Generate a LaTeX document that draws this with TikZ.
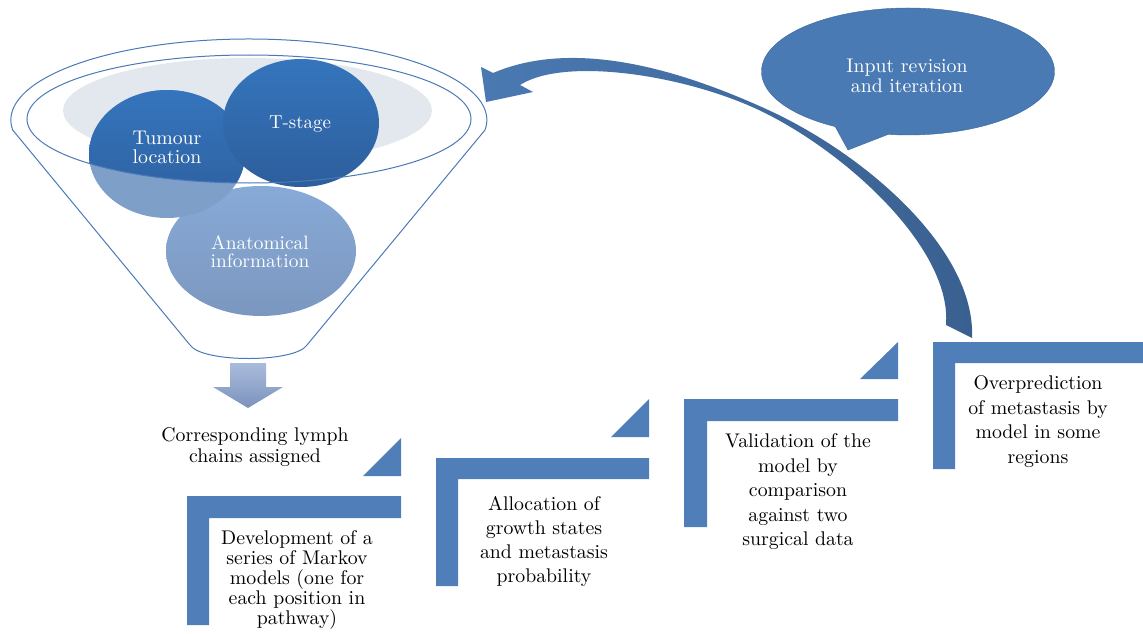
\documentclass[tikz,border=0pt]{standalone}
\usepackage{fontspec}
\setmainfont{lmroman10-regular.otf}

\definecolor{stepblue}{HTML}{4F7EB9}
\definecolor{rimblue}{HTML}{4A79B7}
\definecolor{deepblue}{HTML}{3575BD}
\definecolor{deepblueb}{HTML}{2D5E9C}
\definecolor{paleblue}{HTML}{7E9FC8}
\definecolor{anatblue}{HTML}{88AAD7}
\definecolor{anatblueb}{HTML}{7B97BF}
\definecolor{haze}{HTML}{E3E8EF}
\definecolor{bubblefill}{HTML}{4A7AB3}
\definecolor{bubbleline}{HTML}{3C679C}
\definecolor{loopblue}{HTML}{4A79B2}
\definecolor{loopblueb}{HTML}{39608F}
\definecolor{downtop}{HTML}{AABCDC}
\definecolor{downbot}{HTML}{7C92BC}

\tikzset{
	rim/.style={draw=rimblue, line width=1pt},
	stepbar/.style={fill=stepblue},
	steptext/.style={align=center, inner sep=0pt, font=\fontsize{19.8}{24.5}\selectfont},
	circtext/.style={steptext, text=white},
}

\begin{document}
\begin{tikzpicture}[x=1pt,y=1pt,yscale=-1,xscale=1]
		\useasboundingbox (0,0) rectangle (1143,634);

		% Haze inside the mouth of the funnel
		\fill[haze] (247.5,110.5) ellipse [x radius=184.5, y radius=52.5];

		% Anatomical information circle
		\shade[top color=anatblue, bottom color=anatblueb] (261,251) ellipse [x radius=95, y radius=65];

		% Tumour location circle: pale below the rim, deep inside it
		\fill[paleblue] (167,154) ellipse [x radius=78, y radius=64];
		\begin{scope}
			\clip (249,119) ellipse [x radius=222, y radius=64];
			\shade[top color=deepblue, bottom color=deepblueb] (167,154) ellipse [x radius=78, y radius=64];
		\end{scope}

		% T-stage circle
		\shade[top color=deepblue, bottom color=deepblueb] (301,123) ellipse [x radius=78, y radius=64];

		% Funnel: inner rim and outer body
		\draw[rim] (249,119) ellipse [x radius=222, y radius=64];
		\draw[rim] (485,130) arc [start angle=7.1, end angle=-187.1, x radius=238, y radius=81]
		-- (190,345) .. controls (202,363) and (295,363) .. (307,345) -- cycle;

		% Arrow down out of the funnel
		\shade[top color=downtop, bottom color=downbot] (230,363) -- (266,363) -- (266,387) -- (283,387) -- (248,408) -- (213,387) -- (230,387) -- cycle;

		% Steps, each with its small triangle above the right end
		\fill[stepbar] (187,496) -- (401,496) -- (401,518) -- (209,518) -- (209,625) -- (187,625) -- cycle;
		\fill[stepbar] (401,438) -- (401,476) -- (363,476) -- cycle;
		\fill[stepbar] (436,458) -- (649,458) -- (649,479) -- (458,479) -- (458,586) -- (436,586) -- cycle;
		\fill[stepbar] (649,399) -- (649,437) -- (611,437) -- cycle;
		\fill[stepbar] (684,399) -- (898,399) -- (898,421) -- (707,421) -- (707,527) -- (684,527) -- cycle;
		\fill[stepbar] (898,342) -- (898,379) -- (860,379) -- cycle;
		\fill[stepbar] (933,342) -- (1143,342) -- (1143,363) -- (955,363) -- (955,469) -- (933,469) -- cycle;

		% Curved arrow back to the funnel
		\shade[left color=loopblue, right color=loopblueb] (972,338)
		.. controls (976,250) and (865,153.5) .. (765,108.5)
		.. controls (680,70) and (575,38) .. (493,73)
		-- (481,67) -- (486,102) -- (533,92) -- (520,85)
		.. controls (565,56) and (690,75.5) .. (765,113)
		.. controls (850,155.5) and (952,250) .. (946,325) -- cycle;

		% Speech bubble
		\draw[fill=bubblefill, draw=bubbleline] (908,71.5) ++(119.8:146.5 and 63.5)
		arc [start angle=119.8, end angle=457.8, x radius=146.5, y radius=63.5] -- (848,150) -- cycle;

		% Texts in the funnel
		\node[circtext, font=\fontsize{19.8}{19}\selectfont] (tumour) at (167,147) {Tumour\\location};
		\node[circtext, font=\fontsize{18.8}{19}\selectfont] (tstage) at (300,124.2) {T-stage};
		\node[circtext, font=\fontsize{19.4}{17.3}\selectfont] (anatomy) at (260,251.8) {Anatomical\\information};

		% Texts of the steps
		\node[steptext, font=\fontsize{19.8}{21}\selectfont] (lymph) at (255,447.5) {Corresponding lymph\\chains assigned};
		\node[steptext, font=\fontsize{19.8}{20}\selectfont] (markov) at (297,579.6) {Development of a\\series of Markov\\models (one for\\each position in\\pathway)};
		\node[steptext, font=\fontsize{19.8}{24}\selectfont] (growth) at (544,541) {Allocation of\\growth states\\and metastasis\\probability};
		\node[steptext] (validate) at (798,492) {Validation of the\\model by\\comparison\\against two\\surgical data};
		\node[steptext] (overpred) at (1038,421.8) {Overprediction\\of metastasis by\\model in some\\regions};

		% Text in the bubble
		\node[circtext, font=\fontsize{19.8}{20}\selectfont] (revision) at (907,76.2) {Input revision\\and iteration};
	\end{tikzpicture}
\end{document}
